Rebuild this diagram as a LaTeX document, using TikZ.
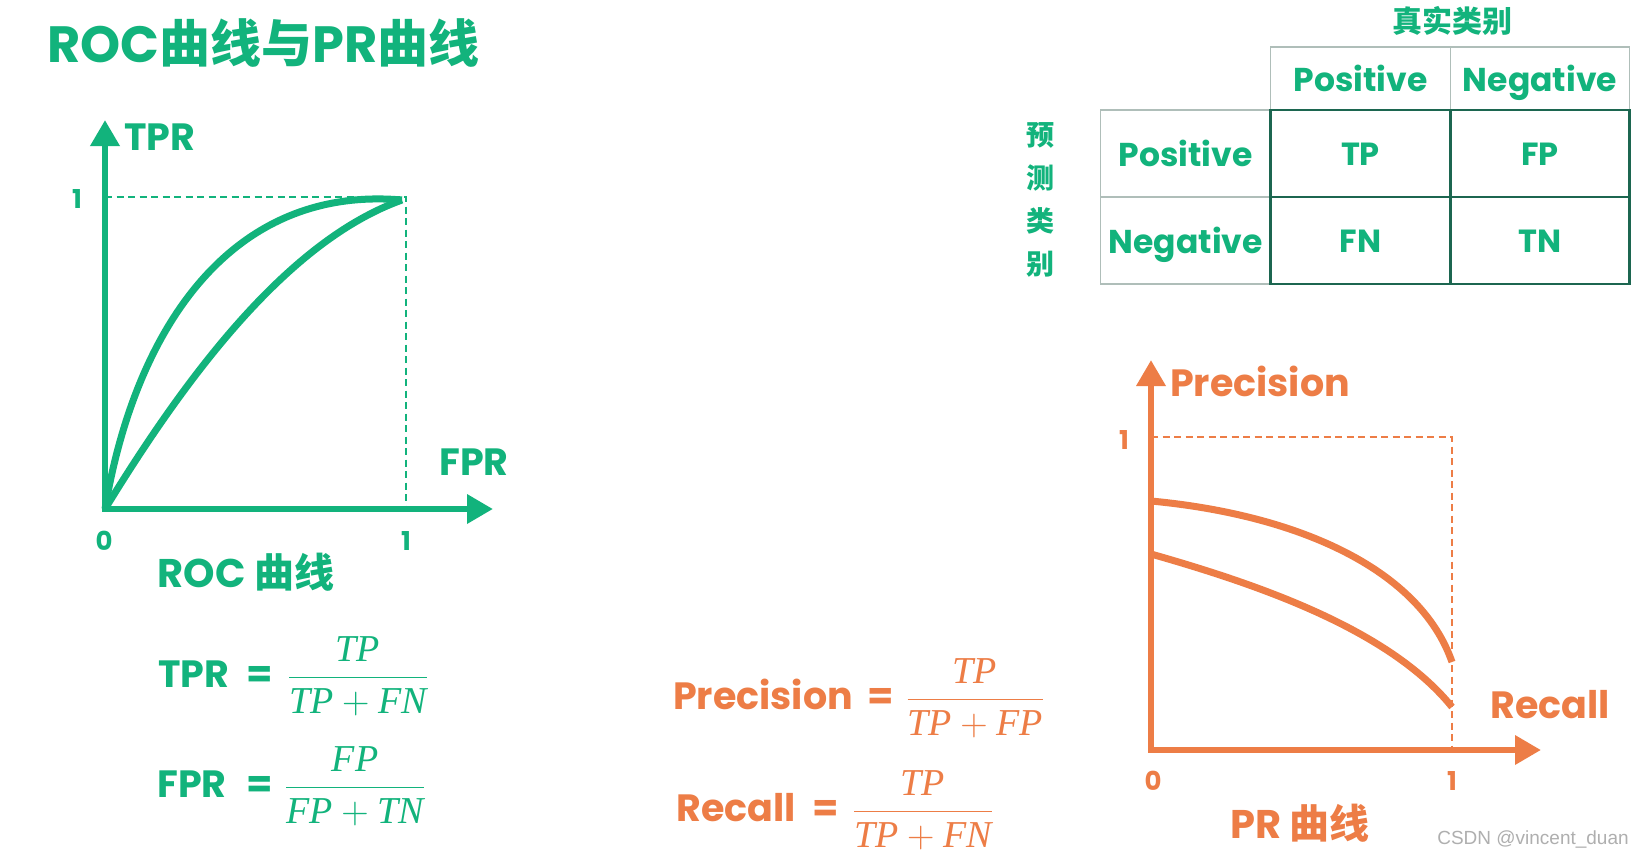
\documentclass[tikz,border=0pt]{standalone}
\usepackage{fix-cm}
\usepackage{amsmath}
\usepackage{fontspec}
\setsansfont{Poppins}
\newfontfamily\zhfont{Noto Sans CJK SC}
\newfontfamily\markfont{Liberation Sans}
\newfontfamily\fracfont{Liberation Serif}
\usetikzlibrary{positioning, arrows.meta, calc}

\definecolor{rocgreen}{RGB}{18,179,124}
\definecolor{prorange}{RGB}{237,125,70}
\definecolor{cellline}{RGB}{28,102,80}
\definecolor{thinline}{RGB}{175,190,185}
\definecolor{markgray}{RGB}{175,175,175}

\newcommand{\fsz}[1]{\fontsize{#1}{#1}\selectfont}
\newcommand{\zh}[1]{{\zhfont\bfseries #1}}
\newcommand{\fv}[1]{\text{\fracfont\itshape #1}}   % 分数の中の変数

\begin{document}
\begin{tikzpicture}[
    x=1pt, y=-1pt,                      % 画像のピクセル座標をそのまま使う
    >={Triangle[length=26pt, width=28pt]},
    font=\sffamily\bfseries,
    axis/.style={line width=6.5pt},
    curve/.style={line width=7pt},
    guide/.style={line width=2.8pt, dash pattern=on 7pt off 4.5pt},
    lbl/.style={font=\sffamily\bfseries\fsz{38}},
    caplbl/.style={font=\sffamily\bfseries\fsz{40}},
    tick/.style={font=\sffamily\bfseries\fsz{26}},
    frac/.style={font=\fsz{38}, anchor=base, inner sep=0pt},
    thincell/.style={draw=thinline, line width=1.2pt, inner sep=0pt, outer sep=0pt,
        text=rocgreen, text height=28pt, text depth=3pt,
        font=\sffamily\bfseries\fsz{33}},
    datacell/.style={draw=cellline, line width=2.6pt, inner sep=0pt, outer sep=0pt,
        minimum width=179.5pt, minimum height=87pt, text=rocgreen,
        text height=27pt, text depth=3pt, font=\sffamily\bfseries\fsz{32}}
]

    % --- 0. 背景と描画範囲 ---
    \fill[white] (0,0) rectangle (1644,860);
    \useasboundingbox (0,0) rectangle (1644,860);

    % --- 1. タイトル ---
    \node[anchor=west, text=rocgreen, font=\sffamily\bfseries\fsz{51}] (title) at (44,43)
        {ROC\zh{曲线与}PR\zh{曲线}};

    % --- 2. ROC 曲線 ---
    \coordinate (roc0) at (105,509);
    \coordinate (rocy) at (105,120);
    \coordinate (rocx) at (493,509);
    \coordinate (rocA) at (105,197);
    \coordinate (rocB) at (406,197);
    \coordinate (rocC) at (406,509);
    \coordinate (rocE) at (402,200);

    \draw[guide, rocgreen] (rocA) -- (rocB) -- (rocC);
    \draw[axis, rocgreen, <->] (rocy) -- (roc0) -- (rocx);

    % 上側の曲線と下側の曲線（どちらも (1,1) に集まる）
    \draw[curve, rocgreen] (roc0) .. controls (135,330) and (230,185) .. (rocE);
    \draw[curve, rocgreen] (roc0) .. controls (190,370) and (290,240) .. (rocE);

    \node[lbl, text=rocgreen] (tprlbl) at (160,137) {TPR};
    \node[lbl, text=rocgreen] (fprlbl) at (474,462) {FPR};
    \node[tick, text=rocgreen] (rocone) at (77,199) {1};
    \node[tick, text=rocgreen] (roczero) at (104,541) {0};
    \node[tick, text=rocgreen] (rocxone) at (406,541) {1};
    \node[caplbl, text=rocgreen] (roccap) at (246,572) {ROC \zh{曲线}};

    % 【TPR・FPR の式】
    \node[lbl, anchor=base, text=rocgreen] (tprname) at (194,687) {TPR};
    \node[lbl, anchor=base, text=rocgreen] (tpreq) at (260,687) {=};
    \node[frac, text=rocgreen] (tprfrac) at (358,687) {$\dfrac{\fv{TP}}{\fv{TP}+\fv{FN}}$};

    \node[lbl, anchor=base, text=rocgreen] (fprname) at (192,797) {FPR};
    \node[lbl, anchor=base, text=rocgreen] (fpreq) at (260,797) {=};
    \node[frac, text=rocgreen] (fprfrac) at (355,797) {$\dfrac{\fv{FP}}{\fv{FP}+\fv{TN}}$};

    % --- 3. 混同行列 ---
    \node[datacell] (tp) at (1360.5,153.5) {TP};
    \node[datacell, right=0pt of tp] (fp) {FP};
    \node[datacell, below=0pt of tp] (fn) {FN};
    \node[datacell, right=0pt of fn] (tn) {TN};

    \node[thincell, minimum width=179.5pt, minimum height=63pt, above=0pt of tp] (colpos) {Positive};
    \node[thincell, minimum width=179.5pt, minimum height=63pt, above=0pt of fp] (colneg) {Negative};
    \node[thincell, minimum width=170pt, minimum height=87pt, left=0pt of tp] (rowpos) {Positive};
    \node[thincell, minimum width=170pt, minimum height=87pt, left=0pt of fn] (rowneg) {Negative};
    \draw[cellline, line width=2.6pt] (tp.north west) rectangle (tn.south east);

    \node[text=rocgreen, font=\zhfont\bfseries\fsz{30}] (truecls) at (1452,21) {真实类别};
    \node[text=rocgreen, align=center, font=\zhfont\bfseries\fontsize{28}{43}\selectfont]
        (predcls) at (1040,200) {预\\测\\类\\别};

    % --- 4. PR 曲線 ---
    \coordinate (pr0) at (1151,750);
    \coordinate (pry) at (1151,360);
    \coordinate (prx) at (1541,750);
    \coordinate (prA) at (1151,437);
    \coordinate (prB) at (1452,437);
    \coordinate (prC) at (1452,750);
    \coordinate (prU0) at (1151,501);
    \coordinate (prU1) at (1452,662);
    \coordinate (prL0) at (1151,554);
    \coordinate (prL1) at (1452,707);

    \draw[guide, prorange] (prA) -- (prB) -- (prC);
    \draw[axis, prorange, <->] (pry) -- (pr0) -- (prx);

    \draw[curve, prorange] (prU0) .. controls (1300,515) and (1420,570) .. (prU1);
    \draw[curve, prorange] (prL0) .. controls (1260,585) and (1390,630) .. (prL1);

    \node[lbl, text=prorange] (preclbl) at (1260,381) {Precision};
    \node[lbl, text=prorange] (reclbl) at (1550,705) {Recall};
    \node[tick, text=prorange] (prone) at (1124,440) {1};
    \node[tick, text=prorange] (przero) at (1153,781) {0};
    \node[tick, text=prorange] (prxone) at (1452,781) {1};
    \node[caplbl, text=prorange] (prcap) at (1300,823) {PR \zh{曲线}};

    % 【Precision・Recall の式】
    \node[lbl, anchor=base, text=prorange] (precname) at (763,709) {Precision};
    \node[lbl, anchor=base, text=prorange] (preceq) at (881,709) {=};
    \node[frac, text=prorange] (precfrac) at (975,709) {$\dfrac{\fv{TP}}{\fv{TP}+\fv{FP}}$};

    \node[lbl, anchor=base, text=prorange] (recname) at (736,821) {Recall};
    \node[lbl, anchor=base, text=prorange] (receq) at (826,821) {=};
    \node[frac, text=prorange] (recfrac) at (923,821) {$\dfrac{\fv{TP}}{\fv{TP}+\fv{FN}}$};

    % --- 5. 透かし ---
    \node[text=markgray, font=\markfont\fsz{19}] (mark) at (1533,839) {CSDN @vincent\_duan};

\end{tikzpicture}
\end{document}
